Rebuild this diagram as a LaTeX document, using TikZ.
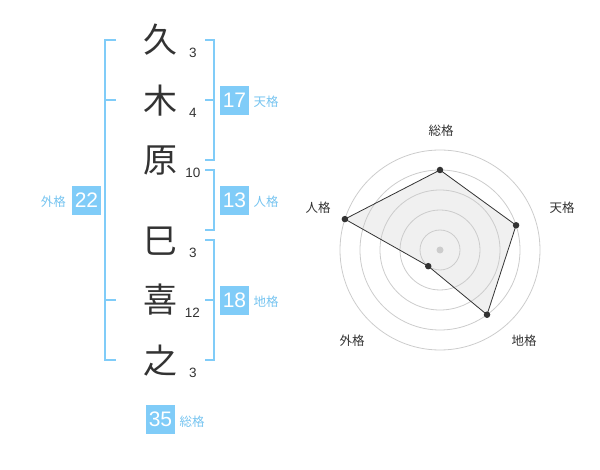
\documentclass[tikz,border=0pt]{standalone}
\usepackage{fontspec}
\setmainfont{Liberation Sans}
\newfontfamily\cjk{Noto Sans CJK JP}
\definecolor{blu}{RGB}{128,204,248}
\definecolor{blutxt}{RGB}{118,196,240}
\definecolor{ink}{RGB}{51,51,51}
\definecolor{ring}{RGB}{204,204,204}
\definecolor{area}{RGB}{240,240,240}
\tikzset{
  kanji/.style={font=\cjk\fontsize{34}{34}\selectfont, text=ink, inner sep=0pt},
  strokes/.style={font=\fontsize{13.5}{13.5}\selectfont, text=ink, inner sep=0pt},
  numbox/.style={fill=blu, text=white, minimum size=29pt, inner sep=0pt, font=\fontsize{21}{21}\selectfont},
  lbl/.style={font=\cjk\fontsize{12.5}{12.5}\selectfont, text=blutxt, inner sep=0pt},
  brk/.style={draw=blu, line width=2pt},
  radlbl/.style={font=\cjk\fontsize{12.5}{12.5}\selectfont, text=ink, inner sep=0pt},
  ringline/.style={draw=ring, line width=0.8pt},
  dot/.style={circle, fill=ink, inner sep=0pt, minimum size=6.5pt},
}
\begin{document}
\begin{tikzpicture}[x=1pt,y=-1pt]
\useasboundingbox (0,0) rectangle (600,470);
% characters
\node[kanji] (c1) at (160,40) {久};
\node[kanji] (c2) at (160,101) {木};
\node[kanji] (c3) at (160,161) {原};
\node[kanji] (c4) at (160,241) {巳};
\node[kanji] (c5) at (160,300) {喜};
\node[kanji] (c6) at (160,361) {之};
% stroke counts
\node[strokes] (n1) at (193,53) {3};
\node[strokes] (n2) at (193,113) {4};
\node[strokes] (n3) at (193,173) {10};
\node[strokes] (n4) at (193,253) {3};
\node[strokes] (n5) at (192.5,313) {12};
\node[strokes] (n6) at (193,373) {3};
% left bracket
\coordinate (la) at (105,40);
\coordinate (lb) at (105,360);
\draw[brk] (116,40) -- (la) -- (lb) -- (116,360);
\draw[brk] (105,100) -- (116,100);
\draw[brk] (105,300) -- (116,300);
% right brackets
\draw[brk] (205,40) -- (214,40) -- (214,160) -- (205,160);
\draw[brk] (205,100) -- (214,100);
\draw[brk] (205,170) -- (214,170) -- (214,230) -- (205,230);
\draw[brk] (205,240) -- (214,240) -- (214,360) -- (205,360);
\draw[brk] (205,300) -- (214,300);
% boxes
\node[numbox] (ten) at (234.5,100.5) {17};
\node[lbl, anchor=west] (tenl) at (253.5,102) {天格};
\node[numbox] (jin) at (234.5,200.5) {13};
\node[lbl, anchor=west] (jinl) at (253.5,202) {人格};
\node[numbox] (chi) at (234.5,300.5) {18};
\node[lbl, anchor=west] (chil) at (253.5,302) {地格};
\node[numbox] (gai) at (86.5,200.5) {22};
\node[lbl, anchor=east] (gail) at (66,202) {外格};
\node[numbox] (sou) at (160.5,419.5) {35};
\node[lbl, anchor=west] (soul) at (179.5,422) {総格};
% radar
\coordinate (O) at (440,250);
\path (O) ++(0,-80) coordinate (pS);
\path (O) ++(-18:80) coordinate (pT);
\path (O) ++(54:80) coordinate (pC);
\path (O) ++(126:20) coordinate (pG);
\path (O) ++(198:100) coordinate (pJ);
\fill[area] (pS) -- (pT) -- (pC) -- (pG) -- (pJ) -- cycle;
\foreach \r in {20,40,60,80,100} \draw[ringline] (O) circle[radius=\r];
\fill[ring] (O) circle[radius=3.5];
\draw[ink, line width=0.8pt] (pS) -- (pT) -- (pC) -- (pG) -- (pJ) -- cycle;
\foreach \p in {pS,pT,pC,pG,pJ} \node[dot] at (\p) {};
\node[radlbl] (rS) at (441,131) {総格};
\node[radlbl] (rT) at (562,208) {天格};
\node[radlbl] (rC) at (524,341) {地格};
\node[radlbl] (rG) at (352,341) {外格};
\node[radlbl] (rJ) at (318,208) {人格};
\end{tikzpicture}
\end{document}
